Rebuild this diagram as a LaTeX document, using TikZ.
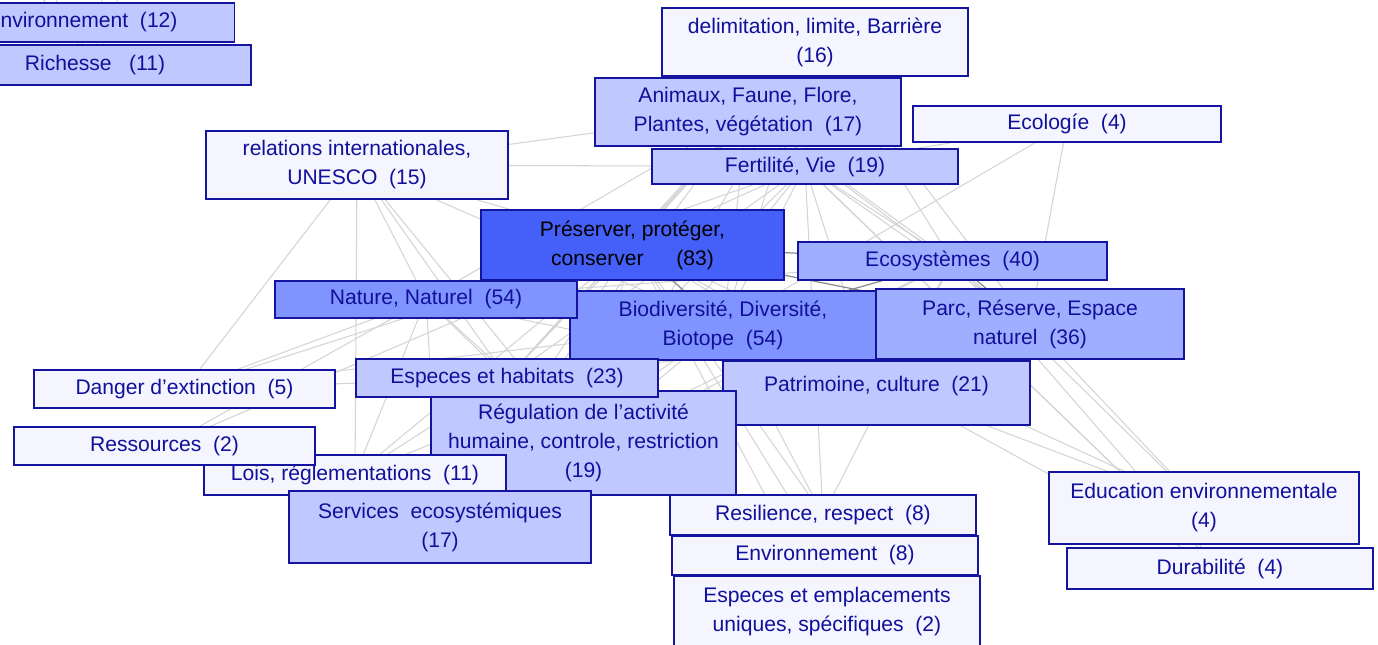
\documentclass[tikz,border=0pt]{standalone}
\usepackage{fontspec}
\setmainfont{Liberation Sans}
\usepackage{tikz}
\usetikzlibrary{backgrounds}
\definecolor{bordure}{HTML}{1414A0}
\definecolor{texte}{HTML}{10109A}
\definecolor{pale}{HTML}{F4F5FF}
\definecolor{bleuA}{HTML}{C0C8FF}
\definecolor{bleuB}{HTML}{A0AEFF}
\definecolor{bleuC}{HTML}{8094FF}
\definecolor{bleuD}{HTML}{4460F8}
\tikzset{
  boite/.style={draw=bordure, line width=1pt, rectangle, align=center, inner sep=0pt,
    text=texte, font=\fontsize{12}{16.5}\selectfont},
  lien/.style={draw=black!17, line width=0.6pt},
  lienfort/.style={draw=black!45, line width=0.7pt}
}

\begin{document}
\begin{tikzpicture}[x=0.02cm, y=-0.02cm]
  \useasboundingbox (0,0) rectangle (1378,645);
  \node[boite, fill=bleuA, minimum width=6.1cm, minimum height=0.78cm] (env12) at (82,22.5) {Environnement~ (12)};
  \node[boite, fill=bleuA, minimum width=6.24cm, minimum height=0.8cm] (rich11) at (95,65) {Richesse~~ (11)};
  \node[boite, fill=pale, minimum width=6.12cm, minimum height=1.36cm] (delim) at (815,42) {delimitation, limite, Barrière\\(16)};
  \node[boite, fill=bleuA, minimum width=6.12cm, minimum height=1.36cm] (anim) at (748,112) {Animaux, Faune, Flore,\\Plantes, végétation~ (17)};
  \node[boite, fill=pale, minimum width=6.16cm, minimum height=0.72cm] (eco4) at (1067,124) {Ecologíe~ (4)};
  \node[boite, fill=pale, minimum width=6.04cm, minimum height=1.36cm] (rel) at (357,165) {relations internationales,\\UNESCO~ (15)};
  \node[boite, fill=bleuA, minimum width=6.12cm, minimum height=0.7cm] (fert) at (805,166.5) {Fertilité, Vie~ (19)};
  \node[boite, fill=bleuD, text=black, minimum width=6.06cm, minimum height=1.4cm] (pres) at (632.5,245) {Préserver, protéger,\\conserver \quad\ (83)};
  \node[boite, fill=bleuB, minimum width=6.18cm, minimum height=0.76cm] (ecosys) at (952.5,261) {Ecosystèmes~ (40)};
  \node[boite, fill=bleuC, minimum width=6.12cm, minimum height=1.38cm] (bio) at (723,325.5) {Biodiversité, Diversité,\\Biotope~ (54)};
  \node[boite, fill=bleuC, minimum width=6.04cm, minimum height=0.74cm] (nat) at (426,299.5) {Nature, Naturel~ (54)};
  \node[boite, fill=bleuB, minimum width=6.16cm, minimum height=1.4cm] (parc) at (1030,324) {Parc, Réserve, Espace\\naturel~ (36)};
  \node[boite, fill=pale, minimum width=6.02cm, minimum height=0.76cm] (danger) at (184.5,389) {Danger d’extinction~ (5)};
  \node[boite, fill=bleuA, minimum width=6.14cm, minimum height=1.28cm] (patr) at (876.5,393) {Patrimoine, culture~ (21)\\[-6pt]\mbox{}};
  \node[boite, fill=bleuA, minimum width=6.1cm, minimum height=2.08cm] (reg) at (583.5,443) {Régulation de l’activité\\humaine, controle, restriction\\(19)};
  \node[boite, fill=bleuA, minimum width=6.04cm, minimum height=0.76cm] (esp23) at (507,378) {Especes et habitats~ (23)};
  \node[boite, fill=pale, minimum width=6.04cm, minimum height=0.8cm] (lois) at (355,475) {Lois, réglementations~ (11)};
  \node[boite, fill=pale, minimum width=6.02cm, minimum height=0.76cm] (ress) at (164.5,446) {Ressources~ (2)};
  \node[boite, fill=bleuA, minimum width=6.04cm, minimum height=1.44cm] (serv) at (440,527) {Services~ ecosystémiques\\(17)};
  \node[boite, fill=pale, minimum width=6.12cm, minimum height=0.8cm] (resil) at (823,515) {Resilience, respect~ (8)};
  \node[boite, fill=pale, minimum width=6.12cm, minimum height=0.78cm] (env8) at (825,555.5) {Environnement~ (8)};
  \node[boite, fill=pale, minimum width=6.12cm, minimum height=1.44cm] (espuniq) at (827,612) {Especes et emplacements\\uniques, spécifiques~ (2)};
  \node[boite, fill=pale, minimum width=6.2cm, minimum height=1.44cm] (edu) at (1204,508) {Education environnementale\\(4)};
  \node[boite, fill=pale, minimum width=6.12cm, minimum height=0.82cm] (dur) at (1220,568.5) {Durabilité~ (4)};
  \coordinate (hg1) at (20,-30);
  \coordinate (hg2) at (38,-30);
  \coordinate (hg3) at (105,-30);
  \coordinate (hg4) at (128,-30);
  \begin{pgfonlayer}{background}
    \clip (0,0) rectangle (1378,645);
    \foreach \a/\b in {pres/fert, pres/anim, pres/delim, pres/rel, pres/esp23, pres/reg, pres/patr,
        pres/serv, pres/lois, pres/resil, pres/env8, pres/espuniq, pres/edu, pres/dur, pres/danger, pres/ress,
        bio/fert, bio/anim, bio/delim, bio/esp23, bio/reg, bio/patr, bio/serv, bio/lois, bio/resil,
        bio/eco4, bio/danger, bio/edu, bio/rel,
        nat/ecosys, nat/parc, nat/fert, nat/anim, nat/rel, nat/esp23, nat/reg, nat/serv, nat/patr,
        nat/danger, nat/ress, nat/lois,
        ecosys/fert, ecosys/anim, ecosys/delim, ecosys/serv, ecosys/reg, ecosys/dur, ecosys/edu,
        ecosys/resil, ecosys/patr,
        parc/delim, parc/reg, parc/patr, parc/eco4, parc/edu, parc/fert, parc/esp23, parc/anim,
        rel/danger, rel/lois, rel/anim, rel/fert, rel/esp23, rel/reg,
        eco4/fert, dur/anim, dur/fert, env8/fert, esp23/danger, esp23/lois, esp23/serv,
        reg/lois, reg/serv, reg/patr, delim/anim, delim/fert, delim/esp23, delim/reg,
        anim/fert, anim/esp23, anim/serv, fert/esp23, fert/serv, fert/reg, fert/patr,
        rich11/hg1, rich11/hg2, rich11/hg3, rich11/hg4}
      \draw[lien] (\a) -- (\b);
    \foreach \a/\b in {pres/nat, pres/bio, pres/ecosys, pres/parc, bio/nat, bio/ecosys, bio/parc, ecosys/parc}
      \draw[lienfort] (\a) -- (\b);
  \end{pgfonlayer}
\end{tikzpicture}
\end{document}
